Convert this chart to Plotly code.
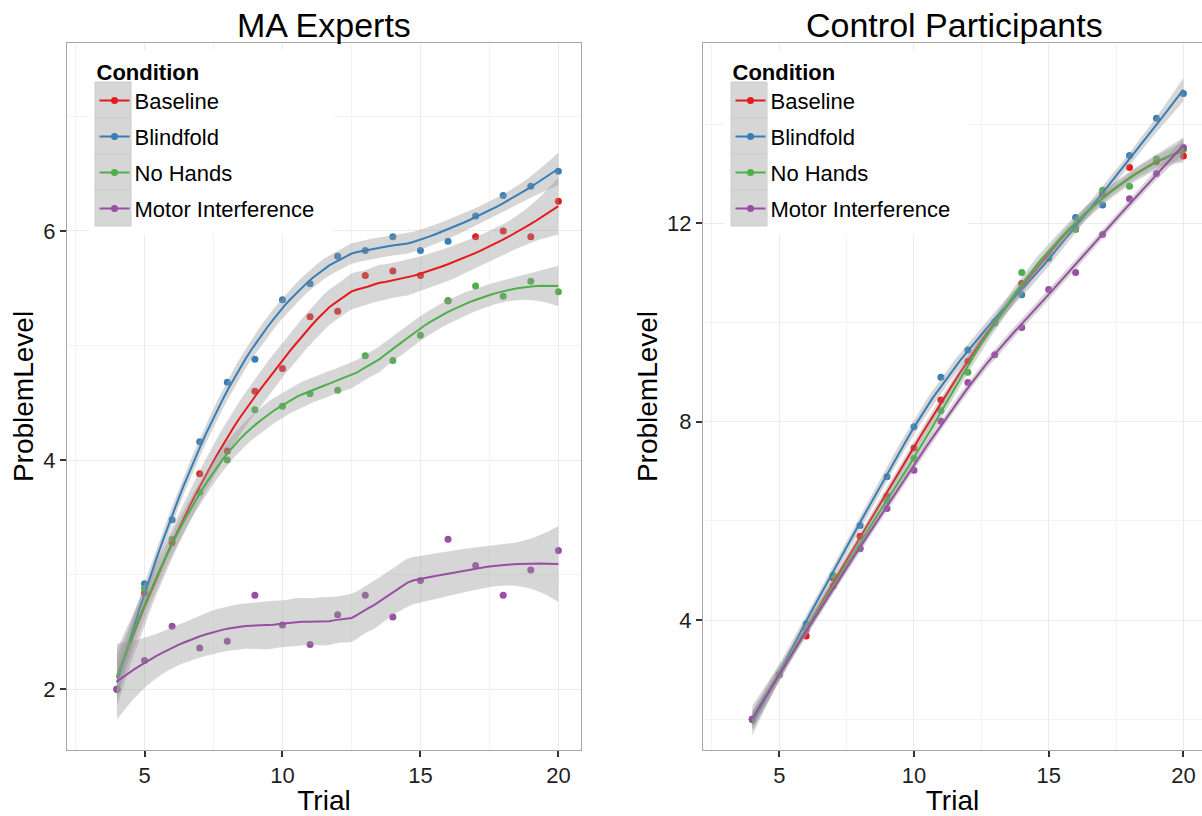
import numpy as np
import plotly.graph_objects as go

# ---------------- data ----------------
trials = list(range(4, 21))
conditions = ["Baseline", "Blindfold", "No Hands", "Motor Interference"]
colors = ["#E41A1C", "#377EB8", "#4DAF4A", "#984EA3"]

ma_baseline = [2.0, 2.84, 3.28, 3.88, 4.08, 4.60, 4.80, 5.25, 5.30, 5.61, 5.65, 5.61, 5.39, 5.95, 6.00, 5.95, 6.26]
ma_blindfold = [2.0, 2.92, 3.48, 4.16, 4.68, 4.88, 5.40, 5.54, 5.78, 5.83, 5.95, 5.83, 5.91, 6.13, 6.31, 6.39, 6.52]
ma_nohands = [2.0, 2.88, 3.31, 3.72, 4.00, 4.44, 4.47, 4.58, 4.61, 4.91, 4.87, 5.09, 5.39, 5.52, 5.43, 5.56, 5.47]
ma_motor = [2.0, 2.25, 2.55, 2.36, 2.42, 2.82, 2.56, 2.39, 2.65, 2.82, 2.63, 2.95, 3.31, 3.08, 2.82, 3.04, 3.21]

ctrl_baseline = [2.0, 2.9, 3.68, 4.85, 5.69, 6.50, 7.47, 8.44, 9.22, 10.0, 10.79, 11.33, 11.90, 12.60, 13.13, 13.25, 13.36]
ctrl_blindfold = [2.0, 2.9, 3.92, 4.90, 5.91, 6.89, 7.90, 8.90, 9.45, 10.0, 10.56, 11.30, 12.12, 12.37, 13.37, 14.12, 14.62]
ctrl_nohands = [2.0, 2.9, 3.85, 4.90, 5.44, 6.40, 7.26, 8.23, 9.00, 10.02, 11.01, 11.33, 11.88, 12.67, 12.75, 13.30, 13.49]
ctrl_motor = [2.0, 2.9, 3.80, 4.69, 5.45, 6.25, 7.02, 8.01, 8.79, 9.35, 9.90, 10.67, 11.01, 11.78, 12.50, 13.01, 13.53]

panel_titles = ["MA Experts", "Control Participants"]
x_label = "Trial"
y_label = "ProblemLevel"
legend_title = "Condition"

panels = [
    [ma_baseline, ma_blindfold, ma_nohands, ma_motor],
    [ctrl_baseline, ctrl_blindfold, ctrl_nohands, ctrl_motor],
]


# ---------------- loess (local quadratic, tricube, span 0.75) ----------------
def _t_quantile(p, df):
    # Cornish-Fisher expansion of Student t quantile
    from math import sqrt, log
    c = [-7.784894002430293e-03, -3.223964580411365e-01, -2.400758277161838e+00,
         -2.549732539343734e+00, 4.374664141464968e+00, 2.938163982698783e+00]
    d = [7.784695709041462e-03, 3.224671290700398e-01, 2.445134137142996e+00,
         3.754408661907416e+00]
    q = sqrt(-2 * log(1 - p))
    z = -(((((c[0]*q+c[1])*q+c[2])*q+c[3])*q+c[4])*q+c[5]) / ((((d[0]*q+d[1])*q+d[2])*q+d[3])*q+1)
    n = df
    g1 = (z**3 + z) / 4
    g2 = (5*z**5 + 16*z**3 + 3*z) / 96
    g3 = (3*z**7 + 19*z**5 + 17*z**3 - 15*z) / 384
    g4 = (79*z**9 + 776*z**7 + 1482*z**5 - 1920*z**3 - 945*z) / 92160
    return z + g1/n + g2/n**2 + g3/n**3 + g4/n**4


def loess_smooth(x, y, n_out=80, span=0.75):
    x = np.asarray(x, float)
    y = np.asarray(y, float)
    n = len(x)
    q = int(np.floor(n * span))

    def row(x0):
        dist = np.abs(x - x0)
        h = np.sort(dist)[q - 1] * (1 + 1e-10)
        u = np.clip(dist / h, 0, 1)
        w = (1 - u**3)**3
        X = np.column_stack([np.ones(n), x - x0, (x - x0)**2])
        XtW = X.T * w
        return np.linalg.solve(XtW @ X, XtW)[0]

    L = np.array([row(xi) for xi in x])
    resid = y - L @ y
    M = np.eye(n) - L
    MM = M.T @ M
    delta1 = np.trace(MM)
    delta2 = np.trace(MM @ MM)
    sigma = np.sqrt(np.sum(resid**2) / delta1)
    df = delta1**2 / delta2
    tq = _t_quantile(0.975, df)
    xs = np.linspace(x.min(), x.max(), n_out)
    rows = np.array([row(v) for v in xs])
    fit = rows @ y
    se = sigma * np.sqrt(np.sum(rows**2, axis=1))
    return xs, fit, fit - tq * se, fit + tq * se


# ---------------- figure ----------------
W, H = 1202, 816
ML, MR, MT, MB = 67, 0, 43, 66
PW = W - ML - MR
PH = H - MT - MB


def px(xp):
    return (xp - ML) / PW


def py(yp):
    return (H - MB - yp) / PH


fig = go.Figure()
axes = [("x", "y"), ("x2", "y2")]

for pi, series in enumerate(panels):
    xa, ya = axes[pi]
    # points first (ribbons drawn over them, like ggplot)
    for ci, vals in enumerate(series):
        fig.add_trace(go.Scatter(
            x=trials, y=vals, mode="markers", xaxis=xa, yaxis=ya,
            marker=dict(color=colors[ci], size=7, line=dict(width=0)),
            showlegend=False, name=conditions[ci], legendgroup=conditions[ci],
        ))
    for ci, vals in enumerate(series):
        xs, fit, lo, hi = loess_smooth(trials, vals)
        fig.add_trace(go.Scatter(
            x=np.concatenate([xs, xs[::-1]]), y=np.concatenate([hi, lo[::-1]]),
            mode="lines", fill="toself", fillcolor="rgba(153,153,153,0.4)",
            line=dict(width=0), xaxis=xa, yaxis=ya, hoverinfo="skip",
            showlegend=False, legendgroup=conditions[ci],
        ))
        fig.add_trace(go.Scatter(
            x=xs, y=fit, mode="lines", xaxis=xa, yaxis=ya,
            line=dict(color=colors[ci], width=2),
            showlegend=False, name=conditions[ci], legendgroup=conditions[ci],
        ))
    # legend entries
    for ci, cond in enumerate(conditions):
        fig.add_trace(go.Scatter(
            x=[None], y=[None], mode="lines+markers", xaxis=xa, yaxis=ya,
            line=dict(color=colors[ci], width=2),
            marker=dict(color=colors[ci], size=7),
            name=cond, legendgroup=cond, showlegend=True,
            legend="legend" if pi == 0 else "legend2",
        ))

FONT = "Liberation Sans, Arial, Helvetica, sans-serif"
grid_major = "#ebebeb"
grid_minor = "#f3f3f3"
border = "#a6a6a6"
tickc = "#333333"

common_x = dict(
    tick0=0, dtick=5, showgrid=True, gridcolor=grid_major, gridwidth=1,
    minor=dict(tick0=0, dtick=2.5, showgrid=True, gridcolor=grid_minor, gridwidth=1),
    zeroline=False, showline=True, linecolor=border, linewidth=1, mirror=True,
    ticks="outside", ticklen=6, tickwidth=2, tickcolor=tickc,
    tickfont=dict(size=22, color="#1f1f1f", family=FONT),
    title=dict(text=x_label, font=dict(size=28, color="#000", family=FONT), standoff=8),
)
common_y = dict(
    showgrid=True, gridcolor=grid_major, gridwidth=1,
    zeroline=False, showline=True, linecolor=border, linewidth=1,
    ticks="outside", ticklen=6, tickwidth=2, tickcolor=tickc,
    tickfont=dict(size=22, color="#1f1f1f", family=FONT),
    title=dict(text=y_label, font=dict(size=28, color="#000", family=FONT), standoff=1),
)

left_x1 = px(581)
right_x0 = px(703)

legend_common = dict(xanchor="left", yanchor="top",
                     bgcolor="rgba(0,0,0,0)", borderwidth=0, tracegroupgap=4.4,
                     font=dict(size=22, family=FONT, color="#000"),
                     title=dict(text="<b>" + legend_title + "</b>", font=dict(size=22, family=FONT)))

fig.update_layout(
    width=W, height=H,
    margin=dict(l=ML, r=MR, t=MT, b=MB, pad=0),
    paper_bgcolor="white", plot_bgcolor="white",
    font=dict(family=FONT, color="#000"),
    xaxis=dict(common_x, domain=[0, left_x1], range=[2.19, 20.82], anchor="y"),
    yaxis=dict(common_y, domain=[0, 1], range=[1.47, 7.64], tick0=0, dtick=2,
               minor=dict(tick0=0, dtick=1, showgrid=True, gridcolor=grid_minor),
               mirror=True, anchor="x"),
    xaxis2=dict(common_x, domain=[right_x0, 1], range=[2.17, 20.69], anchor="y2"),
    yaxis2=dict(common_y, domain=[0, 1], range=[1.38, 15.64], tick0=0, dtick=4,
                minor=dict(tick0=0, dtick=2, showgrid=True, gridcolor=grid_minor),
                mirror=False, anchor="x2"),
    legend=dict(legend_common, x=px(94.5), y=py(51)),
    legend2=dict(legend_common, x=px(730.5), y=py(51)),
    showlegend=True,
)

# subplot titles
for pi, (d0, d1) in enumerate([(0, left_x1), (right_x0, px(1206))]):
    fig.add_annotation(text=panel_titles[pi], x=(d0 + d1) / 2, y=1, xref="paper", yref="paper",
                       xanchor="center", yanchor="bottom", showarrow=False, yshift=-3,
                       font=dict(size=34, family=FONT, color="#000"))

# legend backgrounds & key boxes (decoration)
for off in (0, 703 - 67):
    fig.add_shape(type="rect", xref="paper", yref="paper", layer="above",
                  x0=px(89 + off), x1=px(333 + off), y0=py(234), y1=py(50),
                  fillcolor="white", line=dict(width=0))
    for k in range(4):
        fig.add_shape(type="rect", xref="paper", yref="paper", layer="above",
                      x0=px(95 + off), x1=px(131 + off), y0=py(82 + 36 * (k + 1)), y1=py(82 + 36 * k),
                      fillcolor="#d6d6d6", line=dict(color="#cccccc", width=1))

fig.write_html("out.html", config={"displayModeBar": False},
               post_script="document.body.style.margin='0';document.body.style.overflow='hidden';")
